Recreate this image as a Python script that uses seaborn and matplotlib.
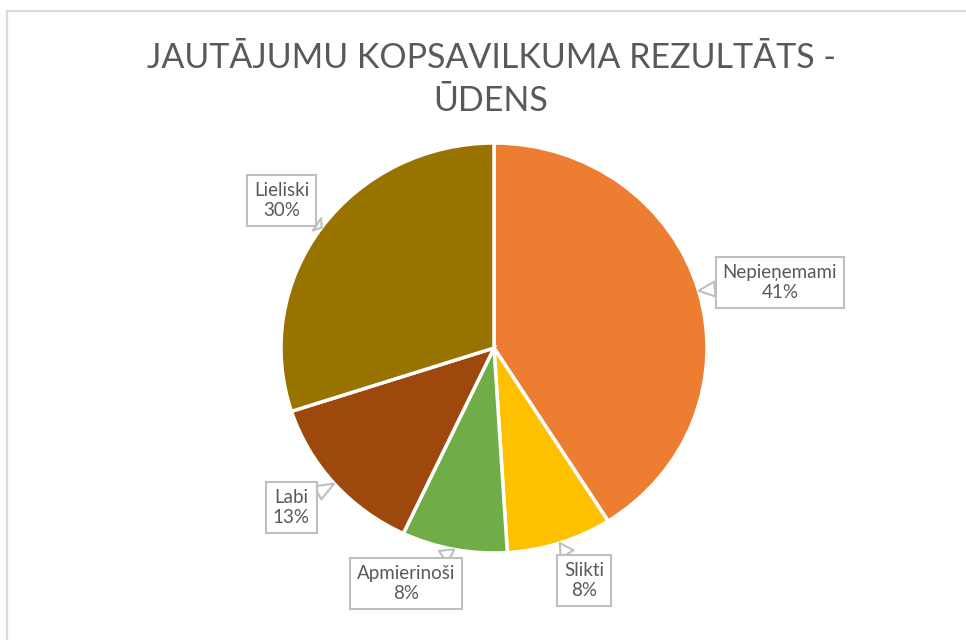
import numpy as np
import matplotlib
matplotlib.use("Agg")
import matplotlib.pyplot as plt
from matplotlib.lines import Line2D
import seaborn as sns

# ---- data ----
categories = ["Nepieņemami", "Slikti", "Apmierinoši", "Labi", "Lieliski"]
values = [41, 8, 8, 13, 30]
title_lines = ["JAUTĀJUMU KOPSAVILKUMA REZULTĀTS -", "ŪDENS"]

# ---- style ----
colors = ["#ED7D31", "#FFC000", "#70AD47", "#9E480E", "#997300"]
# label layout: (radius of box centre, angle shift in degrees)
label_layout = [(1.38, -2.8), (1.21, 2.4), (1.22, -9.0), (1.23, -2.1), (1.23, 0.2)]

sns.set_theme(style="white")
plt.rcParams["font.family"] = ["Lato", "DejaVu Sans"]

W, H = 966, 640
fig = plt.figure(figsize=(W / 100, H / 100), dpi=100)
fig.patch.set_facecolor("white")

# outer frame lines (chart area border)
fig.add_artist(Line2D([6.5 / W, 6.5 / W], [0, 1 - 10.5 / H], color="#D9D9D9",
                      lw=1.6, transform=fig.transFigure))
fig.add_artist(Line2D([6.5 / W, 1], [1 - 10.5 / H, 1 - 10.5 / H], color="#D9D9D9",
                      lw=1.6, transform=fig.transFigure))

# title
for line, ypx in zip(title_lines, [58, 101]):
    fig.text(491 / W, 1 - ypx / H, line, ha="center", va="center",
             fontsize=24.5, color="#595959", fontweight="normal",
             family=["Lato", "DejaVu Sans"])

cx, cy, rx, ry = 494, 348, 213, 205
ax = fig.add_axes([(cx - rx) / W, (H - cy - ry) / H, 2 * rx / W, 2 * ry / H])
wedges, _ = ax.pie(values, colors=sns.color_palette(colors), startangle=90,
                   counterclock=False, radius=1,
                   wedgeprops=dict(edgecolor="white", linewidth=2.5))
ax.set_aspect("auto")
ax.set_xlim(-1, 1)
ax.set_ylim(-1, 1)
ax.axis("off")

for w, cat, val, (r, shift) in zip(wedges, categories, values, label_layout):
    mid = np.deg2rad((w.theta1 + w.theta2) / 2)
    tip = (1.0 * np.cos(mid), 1.0 * np.sin(mid))
    ang = mid + np.deg2rad(shift)
    pos = (r * np.cos(ang), r * np.sin(ang))
    ax.annotate(f"{cat}\n{val}%", xy=tip, xytext=pos, ha="center", va="center",
                fontsize=13.5, color="#595959", linespacing=1.2,
                annotation_clip=False,
                bbox=dict(boxstyle="square,pad=0.38", fc="white", ec="#BFBFBF", lw=1.5),
                arrowprops=dict(arrowstyle="wedge,tail_width=0.8,shrink_factor=0.5",
                                fc="white", ec="#BFBFBF", lw=1.5,
                                shrinkA=0, shrinkB=0))

fig.savefig("out.png", dpi=100, facecolor="white")
